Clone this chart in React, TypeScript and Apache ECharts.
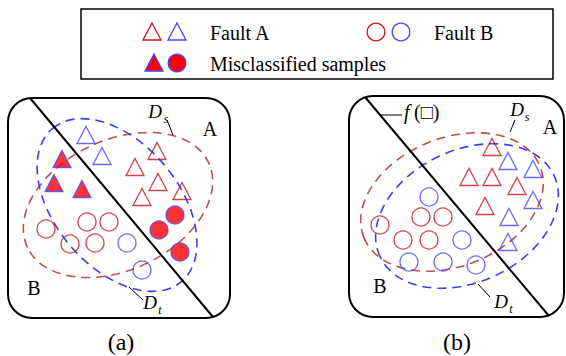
import React, { useEffect, useRef } from "react";
import * as echarts from "echarts";

// Diagram coordinates: x 0..566 left→right, y 0..356 top→bottom.
const FONT = "'Liberation Serif', 'Times New Roman', serif";

// Panel (a): source-domain samples (red), target samples (blue), misclassified (filled)
const aSourceTriangles: number[][] = [[157, 151], [135, 167], [158, 182], [182, 191], [142, 197]];
const aTargetTriangles: number[][] = [[86, 135], [102, 156]];
const aMissTriangles: number[][] = [[62, 159], [54, 183], [82, 189]];
const aSourceCircles: number[][] = [[46, 229], [87, 222], [109, 222], [70, 244], [95, 243]];
const aTargetCircles: number[][] = [[127, 243], [142, 270]];
const aMissCircles: number[][] = [[175, 215], [159, 230], [180, 252]];

// Panel (b): after adaptation
const bSourceTriangles: number[][] = [[492, 147], [469, 177], [492, 177], [517, 186], [485, 206]];
const bTargetTriangles: number[][] = [[508, 161], [533, 169], [533, 200], [509, 217], [508, 242]];
const bSourceCircles: number[][] = [[380, 225], [421, 217], [443, 217], [403, 240], [429, 240]];
const bTargetCircles: number[][] = [[429, 197], [462, 240], [409, 262], [443, 262], [476, 265]];

// Domain outlines: [cx, cy, rx, ry, tilt in degrees (counter-clockwise), domain 0 = Ds, 1 = Dt]
const domainEllipses: number[][] = [
  [118, 205, 100, 65, 25, 0],
  [117, 205, 100, 62, -50, 1],
  [452, 202, 95, 64, 22, 0],
  [467, 216, 96, 66, 25, 1],
];

const RED = "#c8141e";
const BLUE = "#4646ff";
const FILL_RED = "#ff0000";
const DOMAIN_COLORS = ["#c0504d", "#3c3cff"];

const App: React.FC = () => {
  const ref = useRef<HTMLDivElement>(null);

  useEffect(() => {
    document.body.style.margin = "0";
    if (!ref.current) return;
    const chart = echarts.init(ref.current, null, { renderer: "svg" });

    const openTri = (data: number[][], color: string) => ({
      type: "scatter",
      data,
      symbol: "triangle",
      symbolSize: [18, 17],
      itemStyle: { color: "rgba(255,255,255,0)", borderColor: color, borderWidth: 1.3 },
      silent: true,
      z: 5,
    });
    const openCirc = (data: number[][], color: string) => ({
      type: "scatter",
      data,
      symbol: "circle",
      symbolSize: 18,
      itemStyle: { color: "rgba(255,255,255,0)", borderColor: color, borderWidth: 1.3 },
      silent: true,
      z: 5,
    });
    const filled = (data: number[][], symbol: string, size: any) => ({
      type: "scatter",
      data,
      symbol,
      symbolSize: size,
      itemStyle: { color: FILL_RED, borderColor: BLUE, borderWidth: 1.3 },
      silent: true,
      z: 5,
    });

    const txt = (x: number, y: number, text: string, size: number, italic = false, align = "center") => ({
      type: "text",
      x,
      y,
      z: 10,
      style: {
        text,
        font: `${italic ? "italic " : ""}${size}px ${FONT}`,
        fill: "#000",
        textAlign: align,
        textVerticalAlign: "middle",
      },
    });
    const seg = (x1: number, y1: number, x2: number, y2: number, w = 1) => ({
      type: "line",
      z: 10,
      shape: { x1, y1, x2, y2 },
      style: { stroke: "#000", lineWidth: w },
    });
    const tri = (cx: number, cy: number, fill: string, stroke: string) => ({
      type: "polygon",
      z: 10,
      shape: { points: [[cx, cy - 9], [cx + 9, cy + 8], [cx - 9, cy + 8]] },
      style: { fill, stroke, lineWidth: 1.3 },
    });
    const circ = (cx: number, cy: number, fill: string, stroke: string) => ({
      type: "circle",
      z: 10,
      shape: { cx, cy, r: 8.8 },
      style: { fill, stroke, lineWidth: 1.3 },
    });

    const graphics: any[] = [
      // legend
      { type: "rect", z: 10, shape: { x: 81, y: 9, width: 472, height: 70 }, style: { fill: "none", stroke: "#000", lineWidth: 1.5 } },
      tri(152, 32, "none", RED),
      tri(177, 32, "none", BLUE),
      txt(210, 33, "Fault A", 20, false, "left"),
      circ(376, 32, "none", RED),
      circ(401, 32, "none", BLUE),
      txt(434, 33, "Fault B", 20, false, "left"),
      tri(154, 63, FILL_RED, BLUE),
      circ(177, 63, FILL_RED, BLUE),
      txt(210, 64, "Misclassified samples", 20, false, "left"),
      // panel frames
      { type: "rect", z: 10, shape: { x: 8, y: 98, width: 222, height: 220, r: 24 }, style: { fill: "none", stroke: "#000", lineWidth: 2 } },
      { type: "rect", z: 10, shape: { x: 349, y: 96, width: 215, height: 221, r: 24 }, style: { fill: "none", stroke: "#000", lineWidth: 2 } },
      // decision boundaries
      seg(30, 98, 213, 317, 2),
      seg(365, 97, 549, 316, 2),
      // panel (a) labels
      txt(210, 129, "A", 20),
      txt(34, 288, "B", 20),
      txt(155, 111, "D", 19, true),
      txt(166, 119, "s", 12, true),
      seg(167, 120, 173, 135),
      txt(150, 302, "D", 19, true),
      txt(160, 310, "t", 12, true),
      seg(129, 287, 143, 300),
      txt(121, 342, "(a)", 24),
      // panel (b) labels
      txt(550, 127, "A", 20),
      txt(380, 286, "B", 20),
      txt(517, 109, "D", 19, true),
      txt(527, 117, "s", 12, true),
      seg(515, 120, 510, 132),
      txt(501, 301, "D", 19, true),
      txt(511, 309, "t", 12, true),
      seg(478, 284, 490, 297),
      seg(381, 115, 402, 115),
      txt(404, 112, "f", 20, true, "left"),
      txt(414, 112, "(□)", 20, false, "left"),
      txt(457, 342, "(b)", 24),
    ];

    chart.setOption({
      animation: false,
      backgroundColor: "#fff",
      grid: { left: 0, right: 0, top: 0, bottom: 0 },
      xAxis: { type: "value", min: 0, max: 566, show: false },
      yAxis: { type: "value", min: 0, max: 356, inverse: true, show: false },
      series: [
        {
          type: "custom",
          data: domainEllipses,
          silent: true,
          z: 3,
          renderItem: (_params: any, api: any) => {
            const c = api.coord([api.value(0), api.value(1)]);
            const s = api.size([api.value(2), api.value(3)]);
            return {
              type: "ellipse",
              x: c[0],
              y: c[1],
              rotation: (api.value(4) * Math.PI) / 180,
              shape: { cx: 0, cy: 0, rx: s[0], ry: s[1] },
              style: {
                fill: "none",
                stroke: DOMAIN_COLORS[api.value(5)],
                lineWidth: 1.6,
                lineDash: [9, 6],
              },
            };
          },
        },
        openTri(aSourceTriangles, RED),
        openTri(aTargetTriangles, BLUE),
        filled(aMissTriangles, "triangle", [18, 17]),
        openCirc(aSourceCircles, RED),
        openCirc(aTargetCircles, BLUE),
        filled(aMissCircles, "circle", 18),
        openTri(bSourceTriangles, RED),
        openTri(bTargetTriangles, BLUE),
        openCirc(bSourceCircles, RED),
        openCirc(bTargetCircles, BLUE),
      ],
      graphic: graphics,
    });

    return () => chart.dispose();
  }, []);

  return <div ref={ref} style={{ width: 566, height: 356 }} />;
};

export default App;
